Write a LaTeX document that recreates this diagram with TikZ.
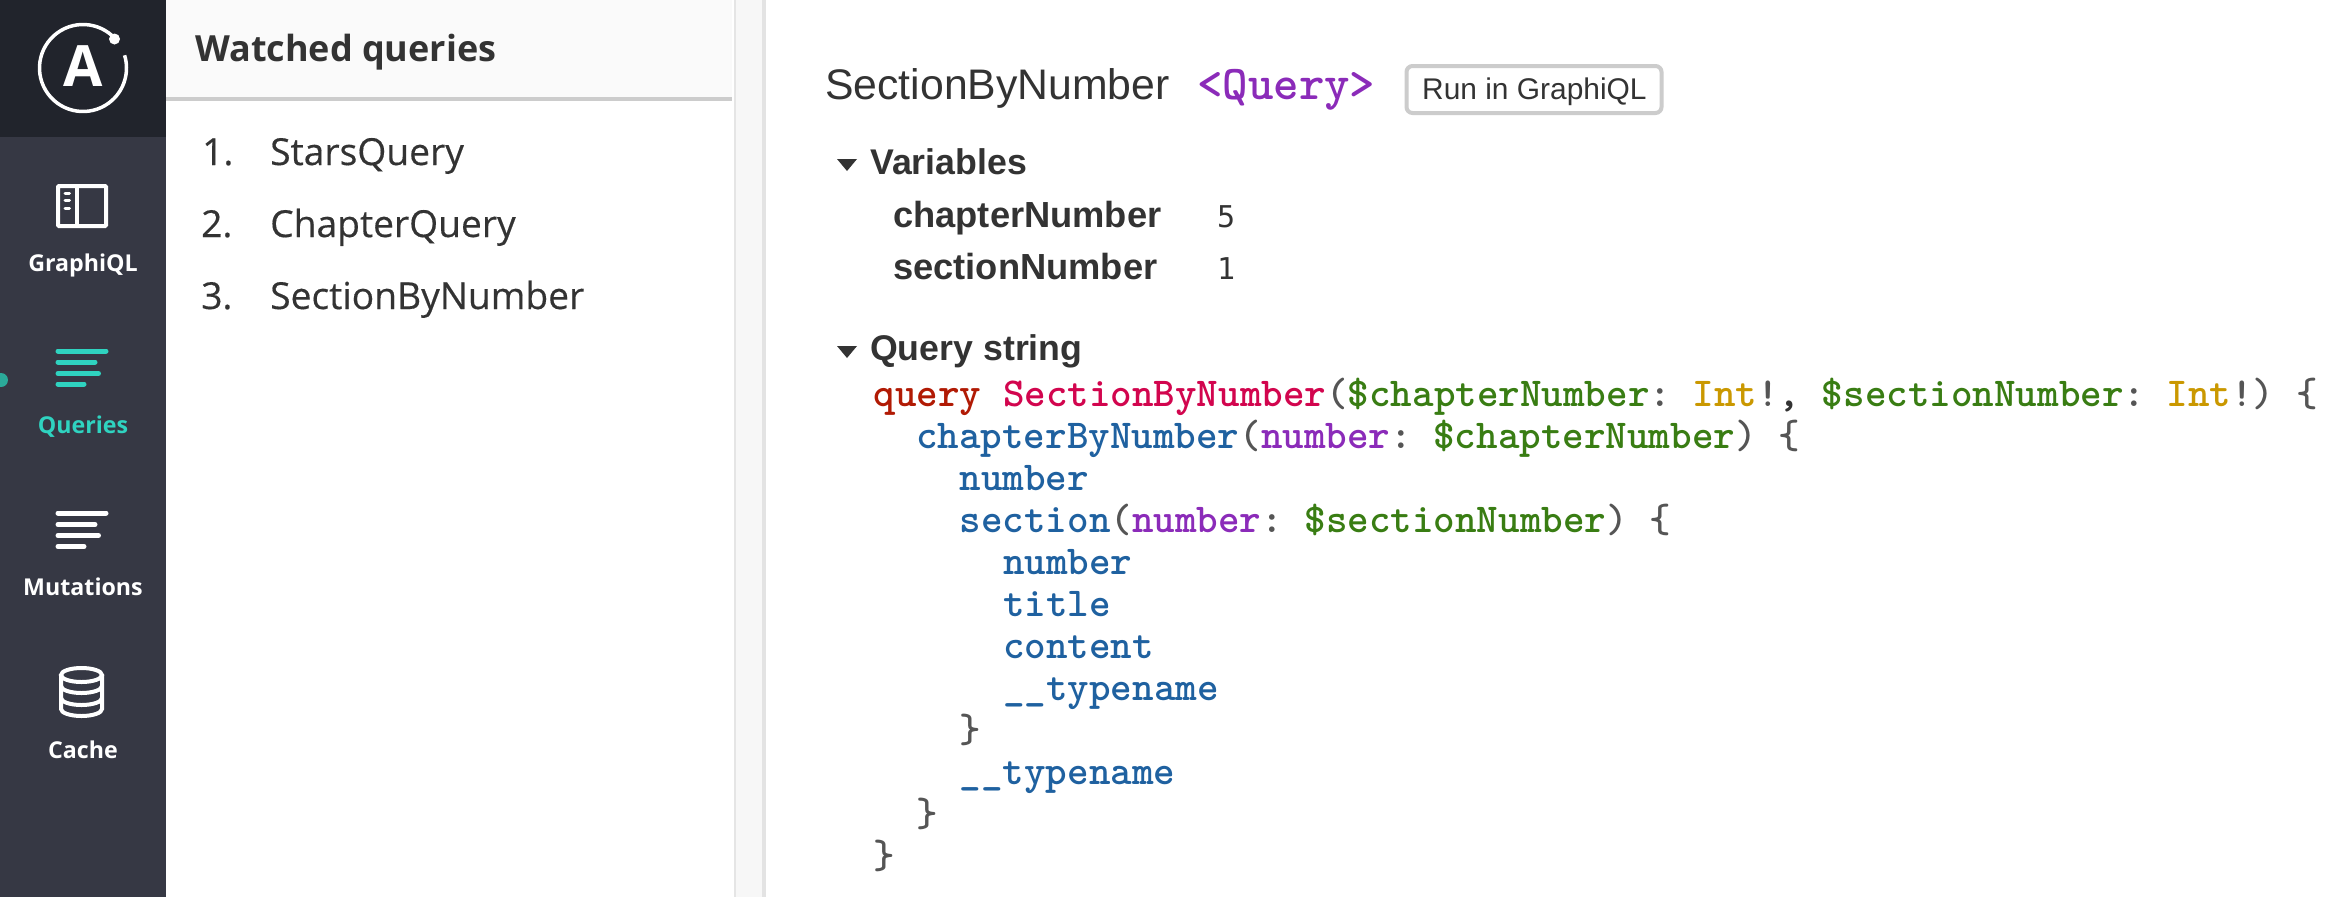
\documentclass[tikz,border=0pt]{standalone}
\usepackage{fontspec}
\setmainfont{Open Sans}
\newfontfamily\helv{Liberation Sans}
\newfontfamily\vardigit{DejaVu Sans Mono}
\newfontfamily\listfont{Open Sans}[FakeBold=0.35]
\usetikzlibrary{positioning}

\definecolor{sidebg}{HTML}{363844}
\definecolor{sidetop}{HTML}{21242C}
\definecolor{teal}{HTML}{2FD3C0}
\definecolor{tealdot}{HTML}{2BAA9A}
\definecolor{ink}{HTML}{333333}
\definecolor{kwcol}{HTML}{B11A04}
\definecolor{defcol}{HTML}{D2054E}
\definecolor{varcol}{HTML}{397D13}
\definecolor{typecol}{HTML}{CA9800}
\definecolor{fieldcol}{HTML}{1F61A0}
\definecolor{attrcol}{HTML}{8B2BB9}
\definecolor{punctcol}{HTML}{555555}

\newcommand{\kw}[1]{\textcolor{kwcol}{#1}}
\newcommand{\dfn}[1]{\textcolor{defcol}{#1}}
\newcommand{\vrb}[1]{\textcolor{varcol}{#1}}
\newcommand{\typ}[1]{\textcolor{typecol}{#1}}
\newcommand{\fld}[1]{\textcolor{fieldcol}{#1}}
\newcommand{\atr}[1]{\textcolor{attrcol}{#1}}

\tikzset{
    txt/.style={anchor=base west,inner sep=0pt,text=ink},
    sidelabel/.style={anchor=base,inner sep=0pt,text=white,font=\bfseries\fontsize{23.2}{30}\selectfont},
    listitem/.style={txt,font=\listfont\fontsize{37.2}{44}\selectfont},
    heading/.style={txt,font=\helv\bfseries\fontsize{35.7}{42}\selectfont},
    varname/.style={txt,font=\helv\bfseries\fontsize{36.3}{42}\selectfont},
    varvalue/.style={txt,font=\vardigit\fontsize{30}{36}\selectfont},
    codeline/.style={txt,text=punctcol,font=\ttfamily\bfseries\frenchspacing\fontsize{41.05}{42}\selectfont},
    iconline/.style={line width=5pt,line cap=round},
    iconstroke/.style={draw=white,line width=4pt},
    twisty/.style={fill=ink}
}

\begin{document}
\begin{tikzpicture}[x=1pt,y=-1pt]
    \useasboundingbox (0,0) rectangle (2342,897);
    \clip (0,0) rectangle (2342,897);
    \fill[white] (0,0) rectangle (2342,897);

    % panels
    \fill[sidebg] (0,0) rectangle (166,897);
    \fill[sidetop] (0,0) rectangle (166,137);
    \fill[black!2] (166,0) rectangle (732,97);
    \fill[black!20] (166,97) rectangle (732,101);
    \fill[black!10] (734,0) rectangle (736,897);
    \fill[black!3] (736,0) rectangle (762,897);
    \fill[black!11] (762,0) rectangle (766,897);

    % logo
    \draw[white,line width=3.5pt] ([shift={(-42:43.5)}]83,68) arc[start angle=-42,end angle=-377,radius=43.5];
    \fill[white] (114.5,39) circle (5.5);
    \node[anchor=base,inner sep=0pt,text=white,font=\bfseries\fontsize{57}{60}\selectfont] (logoA) at (83,86) {A};

    % sidebar icons
    \draw[iconstroke,rounded corners=1pt] (58,186) rectangle (106,226);
    \draw[white,line width=4pt] (77,186) -- (77,226);
    \foreach \y in {193,200.5,208}
        \draw[white,line width=3pt,line cap=round] (65,\y) -- (69.5,\y);
    \foreach \y/\xend in {351/106,362/95,373.5/98.5,384/84}
        \draw[iconline,teal] (58,\y) -- (\xend,\y);
    \fill[tealdot] (1,380) circle (7);
    \foreach \y/\xend in {513/106,524.5/95,535.5/98.5,546.5/84}
        \draw[iconline,white] (58,\y) -- (\xend,\y);
    \draw[iconstroke] (81.5,675) ellipse [x radius=20.5,y radius=7];
    \draw[iconstroke] (61,675) -- (61,709) arc[start angle=180,end angle=0,x radius=20.5,y radius=7] -- (102,675);
    \draw[iconstroke] (61,686) arc[start angle=180,end angle=0,x radius=20.5,y radius=7];
    \draw[iconstroke] (61,698) arc[start angle=180,end angle=0,x radius=20.5,y radius=7];

    % sidebar labels
    \node[sidelabel] (graphiql) at (83,271) {GraphiQL};
    \node[sidelabel,text=teal] (queries) at (83,433) {Queries};
    \node[sidelabel] (mutations) at (83,595) {Mutations};
    \node[sidelabel] (cache) at (83,758) {Cache};

    % watched list
    \node[txt,font=\bfseries\fontsize{36}{44}\selectfont] (watched) at (195,61) {Watched queries};
    \node[listitem] (num1) at (202,165) {1.};
    \node[listitem] (item1) at (270,165) {StarsQuery};
    \node[listitem] (num2) at (201,237) {2.};
    \node[listitem] (item2) at (270,237) {ChapterQuery};
    \node[listitem] (num3) at (201,309) {3.};
    \node[listitem] (item3) at (270,309) {SectionByNumber};

    % title row
    \node[txt,font=\helv\fontsize{42.75}{48}\selectfont] (title) at (825,99) {SectionByNumber};
    \node[txt,text=attrcol,font=\ttfamily\bfseries\fontsize{48.5}{48}\selectfont] (kind) at (1197,99) {<Query>};
    \node[draw=black!20,line width=4pt,rounded corners=6pt,minimum width=255pt,minimum height=47pt,inner sep=0pt] (runbox) at (1534,89.5) {};
    \node[txt,font=\helv\fontsize{29.9}{36}\selectfont] (run) at (1422,99) {Run in GraphiQL};

    % variables
    \fill[twisty] (837,159) -- (857,159) -- (847,171) -- cycle;
    \node[heading] (vars) at (870,174) {Variables};
    \node[varname] (chapvar) at (893,227) {chapterNumber};
    \node[varvalue] (chapval) at (1217,227) {5};
    \node[varname] (secvar) at (893,279) {sectionNumber};
    \node[varvalue] (secval) at (1217,279) {1};

    % query string
    \fill[twisty] (837,346) -- (857,346) -- (847,358) -- cycle;
    \node[heading] (qstring) at (870,360) {Query string};
    \node[codeline] (code1) at (873.5,406) {\kw{query} \dfn{SectionByNumber}(\vrb{\$chapterNumber}: \typ{Int}!\textcolor{ink}{,} \vrb{\$sectionNumber}: \typ{Int}!) \{};
    \node[codeline] (code2) at (916,448) {\fld{chapterByNumber}(\atr{number}: \vrb{\$chapterNumber}) \{};
    \node[codeline] (code3) at (959.5,490) {\fld{number}};
    \node[codeline] (code4) at (959.5,532) {\fld{section}(\atr{number}: \vrb{\$sectionNumber}) \{};
    \node[codeline] (code5) at (1003,574) {\fld{number}};
    \node[codeline] (code6) at (1003,616) {\fld{title}};
    \node[codeline] (code7) at (1003,658) {\fld{content}};
    \node[codeline] (code8) at (1003,700) {\fld{\_\_typename}};
    \node[codeline] (code9) at (959.5,742) {\}};
    \node[codeline] (code10) at (959.5,784) {\fld{\_\_typename}};
    \node[codeline] (code11) at (916,826) {\}};
    \node[codeline] (code12) at (873.5,868) {\}};
\end{tikzpicture}
\end{document}
